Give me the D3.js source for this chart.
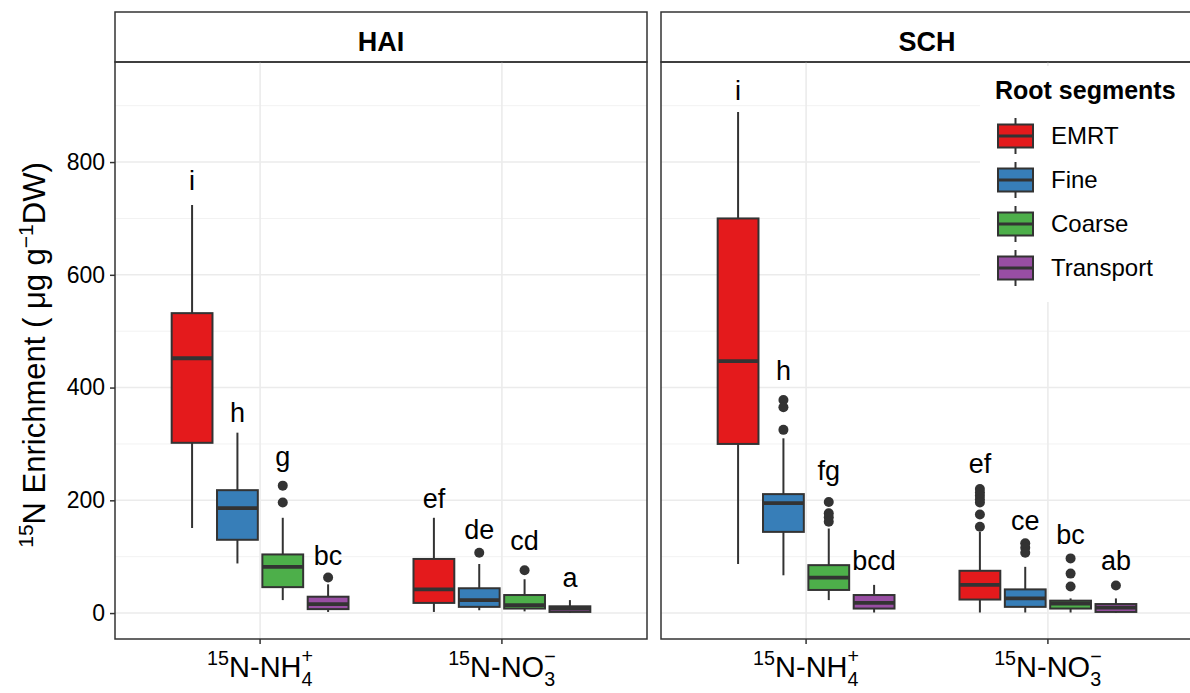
<!DOCTYPE html>
<html>
<head>
<meta charset="utf-8">
<script src="https://cdn.jsdelivr.net/npm/d3@7"></script>
<style>
  body { margin: 0; background: #fff; }
  text { font-family: "Liberation Sans", Arial, sans-serif; fill: #000; }
</style>
</head>
<body>
<svg id="chart" width="1190" height="693"></svg>
<script>
var panels = ["HAI", "SCH"];
var sources = ["NH4", "NO3"];
var segments = ["EMRT", "Fine", "Coarse", "Transport"];
var segColors = ["#E41A1C", "#377EB8", "#4DAF4A", "#984EA3"];

// [lower whisker, q1, median, q3, upper whisker]; NH4 x 4 segments, then NO3 x 4 segments
var haiStats = [
  [151, 302, 452, 532, 724],
  [88, 130, 186, 218, 320],
  [23, 46, 82, 104, 169],
  [2, 7, 16, 29, 51],
  [2, 18, 42, 96, 169],
  [5, 11, 23, 44, 87],
  [3, 8, 14, 32, 60],
  [0.5, 2, 8, 12, 23]
];
var haiOutliers = [[], [], [226, 196], [63], [], [107], [76], []];
var haiLetters = ["i", "h", "g", "bc", "ef", "de", "cd", "a"];
var haiLetterY = [750, 339, 261, 85, 186, 132, 112, 47];

var schStats = [
  [87, 300, 447, 700, 889],
  [67, 144, 195, 211, 310],
  [23, 41, 63, 85, 150],
  [1, 8, 18, 32, 50],
  [1, 24, 50, 75, 144],
  [1, 11, 26, 42, 82],
  [1, 8, 17, 22, 26],
  [0.5, 2, 9.5, 16, 26]
];
var schOutliers = [[], [378, 365, 325], [197, 177, 170, 162], [],
  [220, 214, 208, 202, 196, 175, 153], [124, 116, 107], [97, 70, 47], [49]];
var schLetters = ["i", "h", "fg", "bcd", "ef", "ce", "bc", "ab"];
var schLetterY = [910, 413, 236, 76, 248, 147, 122, 76];

var yTicks = [0, 200, 400, 600, 800];
var yMinor = [100, 300, 500, 700, 900];

var svg = d3.select("#chart");
var panelX = [115, 661], panelW = 532, plotTop = 62, plotBottom = 639, stripTop = 12;
var dark = "#333333";

var y = d3.scaleLinear().domain([-46, 977.5]).range([plotBottom, plotTop]);
var x = d3.scalePoint().domain(sources).range([0, panelW]).padding(0.6);
var step = x.step();
var xSeg = d3.scaleBand().domain(segments).range([-0.375 * step, 0.375 * step]);
var boxW = xSeg.bandwidth() * 0.9;

var allStats = [haiStats, schStats];
var allOut = [haiOutliers, schOutliers];
var allLet = [haiLetters, schLetters];
var allLetY = [haiLetterY, schLetterY];

// rich label with leading superscript, trailing sub/sup stacked
function richLabel(g, fs, pre, main, sub, sup) {
  var t = g.append("text").attr("font-size", fs);
  t.append("tspan").text(pre).attr("font-size", fs * 0.68).attr("dy", -fs * 0.42);
  t.append("tspan").text(main).attr("dy", fs * 0.42);
  var s = t.append("tspan").text(sub).attr("font-size", fs * 0.68).attr("dy", fs * 0.3);
  var w = s.node().getComputedTextLength();
  t.append("tspan").text(sup).attr("font-size", fs * 0.68).attr("dx", -w).attr("dy", -fs * 0.78);
  return t;
}

panels.forEach(function (p, pi) {
  var g = svg.append("g").attr("transform", "translate(" + panelX[pi] + ",0)");

  // strip
  g.append("rect").attr("x", 0).attr("y", stripTop).attr("width", panelW).attr("height", plotTop - stripTop)
    .attr("fill", "#fff").attr("stroke", dark).attr("stroke-width", 1.5);
  g.append("text").attr("x", panelW / 2).attr("y", 51).attr("text-anchor", "middle")
    .attr("font-size", 27).attr("font-weight", "bold").attr("fill", "#1a1a1a").text(p);

  // grid
  g.selectAll(".minor").data(yMinor).enter().append("line")
    .attr("x1", 0).attr("x2", panelW).attr("y1", function (d) { return y(d); }).attr("y2", function (d) { return y(d); })
    .attr("stroke", "#F2F2F2").attr("stroke-width", 1);
  g.selectAll(".major").data(yTicks).enter().append("line")
    .attr("x1", 0).attr("x2", panelW).attr("y1", function (d) { return y(d); }).attr("y2", function (d) { return y(d); })
    .attr("stroke", "#EBEBEB").attr("stroke-width", 1.6);
  g.selectAll(".vgrid").data(sources).enter().append("line")
    .attr("x1", function (d) { return x(d); }).attr("x2", function (d) { return x(d); })
    .attr("y1", plotTop).attr("y2", plotBottom).attr("stroke", "#EBEBEB").attr("stroke-width", 1.6);

  // boxes
  var stats = allStats[pi];
  sources.forEach(function (src, si) {
    segments.forEach(function (seg, ki) {
      var i = si * 4 + ki;
      var s = stats[i];
      var cx = x(src) + xSeg(seg) + xSeg.bandwidth() / 2;
      var bg = g.append("g");
      bg.append("line").attr("x1", cx).attr("x2", cx).attr("y1", y(s[4])).attr("y2", y(s[0]))
        .attr("stroke", dark).attr("stroke-width", 2);
      bg.append("rect").attr("x", cx - boxW / 2).attr("width", boxW)
        .attr("y", y(s[3])).attr("height", y(s[1]) - y(s[3]))
        .attr("fill", segColors[ki]).attr("stroke", dark).attr("stroke-width", 2);
      bg.append("line").attr("x1", cx - boxW / 2).attr("x2", cx + boxW / 2)
        .attr("y1", y(s[2])).attr("y2", y(s[2])).attr("stroke", dark).attr("stroke-width", 3.8);
      bg.selectAll("circle").data(allOut[pi][i]).enter().append("circle")
        .attr("cx", cx).attr("cy", function (d) { return y(d); }).attr("r", 5).attr("fill", dark);
      g.append("text").attr("x", cx).attr("y", y(allLetY[pi][i])).attr("text-anchor", "middle")
        .attr("font-size", 27).text(allLet[pi][i]);
    });
  });

  // panel border
  g.append("rect").attr("x", 0).attr("y", plotTop).attr("width", panelW).attr("height", plotBottom - plotTop)
    .attr("fill", "none").attr("stroke", dark).attr("stroke-width", 1.5);

  // x ticks and labels
  sources.forEach(function (src, si) {
    g.append("line").attr("x1", x(src)).attr("x2", x(src)).attr("y1", plotBottom).attr("y2", plotBottom + 5)
      .attr("stroke", dark).attr("stroke-width", 1.5);
    var lg = g.append("g");
    var t = si === 0 ? richLabel(lg, 29, "15", "N-NH", "4", "+") : richLabel(lg, 29, "15", "N-NO", "3", "\u2212");
    var bb = t.node().getBBox();
    lg.attr("transform", "translate(" + (x(src) - bb.width / 2) + "," + 677 + ")");
  });
});

// y axis
var ax = svg.append("g").attr("transform", "translate(" + panelX[0] + ",0)")
  .call(d3.axisLeft(y).tickValues(yTicks).tickSize(5).tickPadding(5));
ax.select(".domain").remove();
ax.selectAll(".tick line").attr("stroke", dark).attr("stroke-width", 1.5);
ax.selectAll(".tick text").attr("font-size", 23).attr("fill", "#1a1a1a")
  .style("font-family", "'Liberation Sans', Arial, sans-serif");

// y title
var yt = svg.append("text").attr("transform", "translate(45,355) rotate(-90)")
  .attr("text-anchor", "middle").attr("font-size", 31);
yt.append("tspan").text("15").attr("font-size", 21).attr("dy", -12);
yt.append("tspan").text("N Enrichment ( \u03bcg g").attr("dy", 12);
yt.append("tspan").text("\u22121").attr("font-size", 21).attr("dy", -12);
yt.append("tspan").text("DW)").attr("dy", 12);

// legend
var leg = svg.append("g");
leg.append("rect").attr("x", 980).attr("y", 66).attr("width", 215).attr("height", 236).attr("fill", "#fff");
leg.append("text").attr("x", 995).attr("y", 99).attr("font-size", 25).attr("font-weight", "bold")
  .attr("fill", "#1a1a1a").text("Root segments");
var legRow = d3.scalePoint().domain(segments).range([136, 268]);
segments.forEach(function (seg, k) {
  var cy = legRow(seg);
  leg.append("line").attr("x1", 1015.5).attr("x2", 1015.5).attr("y1", cy - 18).attr("y2", cy + 18)
    .attr("stroke", dark).attr("stroke-width", 2);
  leg.append("rect").attr("x", 998).attr("y", cy - 11.5).attr("width", 35).attr("height", 23)
    .attr("fill", segColors[k]).attr("stroke", dark).attr("stroke-width", 2);
  leg.append("line").attr("x1", 998).attr("x2", 1033).attr("y1", cy).attr("y2", cy)
    .attr("stroke", dark).attr("stroke-width", 3);
  leg.append("text").attr("x", 1051).attr("y", cy).attr("dy", "0.35em").attr("font-size", 24)
    .attr("fill", "#1a1a1a").text(seg);
});
</script>
</body>
</html>
